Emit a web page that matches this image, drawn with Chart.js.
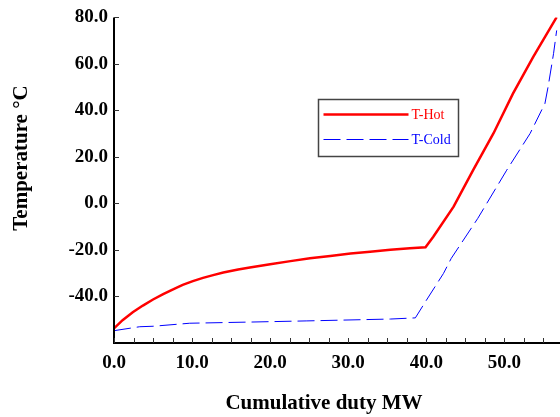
<!DOCTYPE html>
<html>
<head>
<meta charset="utf-8">
<script src="https://cdn.jsdelivr.net/npm/chart.js@4/dist/chart.umd.min.js"></script>
<style>
  html, body { margin: 0; padding: 0; background: #fff; overflow: hidden; }
  #wrap { position: relative; width: 560px; height: 417px; }
</style>
</head>
<body>
<div id="wrap"><canvas id="c" width="560" height="417"></canvas></div>
<script>
// ---- data ----
const hotDuty = [0, 1.1, 2.4, 3.7, 5.0, 6.3, 7.5, 8.8, 10.1, 11.4, 12.7, 14.0, 15.9, 17.4, 20.0, 22.6, 25.1, 27.7, 30.3, 32.8, 35.4, 37.9, 39.9, 40.9, 43.5, 46.0, 48.6, 51.1, 53.7, 56.7];
const hotTemp = [-53.7, -50.2, -46.8, -43.9, -41.3, -39.0, -37.0, -35.0, -33.4, -32.0, -30.8, -29.7, -28.4, -27.5, -26.1, -24.8, -23.6, -22.6, -21.5, -20.8, -19.9, -19.3, -18.8, -14.3, -1.4, 14.3, 30.1, 47.2, 63.0, 80.1];
const coldDuty = [0, 3.3, 5.0, 9.7, 17.4, 24.7, 35.4, 38.6, 39.9, 42.2, 43.2, 46.6, 50.3, 53.3, 55.2, 55.6, 56.3, 56.7];
const coldTemp = [-54.7, -53.0, -52.8, -51.5, -51.0, -50.5, -49.7, -49.2, -42.2, -30.1, -23.6, -6.4, 14.3, 30.1, 43.0, 50.1, 64.4, 74.4];
const seriesNames = ['T-Hot', 'T-Cold'];
const xTitle = 'Cumulative duty MW';
const yTitle = 'Temperature \u00B0C';
const xMin = 0, xMax = 57, xStep = 2.5, xLabelEvery = 10;
const yMin = -60, yMax = 80, yStep = 20;

const toPts = (xs, ys) => xs.map((x, i) => ({ x: x, y: ys[i] }));
const serif = "'Liberation Serif', 'Times New Roman', serif";

const decor = {
  id: 'decor',
  afterDraw(chart) {
    const ctx = chart.ctx;
    const xs = chart.scales.x, ys = chart.scales.y;
    const area = chart.chartArea;
    ctx.save();
    // axis lines
    ctx.strokeStyle = '#000';
    ctx.lineWidth = 2;
    ctx.beginPath();
    ctx.moveTo(area.left, ys.getPixelForValue(yMax));
    ctx.lineTo(area.left, area.bottom);
    ctx.lineTo(area.right + 2, area.bottom);
    ctx.stroke();
    // inward ticks
    ctx.lineWidth = 1;
    ctx.strokeStyle = '#333';
    xs.ticks.forEach(t => {
      const px = Math.round(xs.getPixelForValue(t.value)) + 0.5;
      ctx.beginPath();
      ctx.moveTo(px, area.bottom);
      ctx.lineTo(px, area.bottom - 5);
      ctx.stroke();
    });
    ys.ticks.forEach(t => {
      if (t.value === yMin) return;
      const py = Math.round(ys.getPixelForValue(t.value)) + 0.5;
      ctx.beginPath();
      ctx.moveTo(area.left, py);
      ctx.lineTo(area.left + 5, py);
      ctx.stroke();
    });
    // axis titles
    ctx.fillStyle = '#000';
    ctx.font = 'bold 21px ' + serif;
    ctx.textAlign = 'center';
    ctx.textBaseline = 'middle';
    ctx.fillText(xTitle, 324, 404);
    ctx.save();
    ctx.translate(22, 158);
    ctx.rotate(-Math.PI / 2);
    ctx.fillText(yTitle, 0, 0);
    ctx.restore();
    // legend
    const lx = 318.5, ly = 99.5, lw = 140, lh = 57;
    ctx.strokeStyle = '#444';
    ctx.lineWidth = 1.5;
    ctx.strokeRect(lx, ly, lw, lh);
    chart.data.datasets.forEach((ds, i) => {
      const yy = ly + 15 + i * 25;
      ctx.strokeStyle = ds.borderColor;
      ctx.lineWidth = ds.borderWidth;
      ctx.setLineDash(ds.borderDash || []);
      ctx.beginPath();
      ctx.moveTo(lx + 5, yy);
      ctx.lineTo(lx + 90, yy);
      ctx.stroke();
      ctx.setLineDash([]);
      ctx.fillStyle = ds.borderColor;
      ctx.font = '14px ' + serif;
      ctx.textAlign = 'left';
      ctx.fillText(ds.label, lx + 93, yy + 1);
    });
    ctx.restore();
  }
};

new Chart(document.getElementById('c'), {
  type: 'scatter',
  data: {
    datasets: [
      { label: seriesNames[0], data: toPts(hotDuty, hotTemp), showLine: true, borderColor: '#ff0000', borderWidth: 2.5, pointRadius: 0, tension: 0 },
      { label: seriesNames[1], data: toPts(coldDuty, coldTemp), showLine: true, borderColor: '#0000ff', borderWidth: 1, borderDash: [17, 6], pointRadius: 0, tension: 0 }
    ]
  },
  options: {
    responsive: false,
    animation: false,
    devicePixelRatio: 1,
    layout: { padding: { left: 0, right: 1, top: 17, bottom: 0 } },
    plugins: { legend: { display: false }, tooltip: { enabled: false } },
    scales: {
      x: {
        type: 'linear', min: xMin, max: xMax,
        border: { display: false },
        grid: { display: false, drawTicks: false },
        afterFit(s) { s.height = 74; },
        afterBuildTicks(s) {
          const t = [];
          for (let v = xMin; v <= xMax + 1e-9; v += xStep) t.push({ value: v });
          s.ticks = t;
        },
        ticks: {
          autoSkip: false, maxRotation: 0, padding: 9, color: '#000',
          font: { family: serif, size: 19, weight: 'bold' },
          callback: v => (Math.abs(v % xLabelEvery) < 1e-9 ? v.toFixed(1) : '')
        }
      },
      y: {
        type: 'linear', min: yMin, max: yMax,
        border: { display: false },
        grid: { display: false, drawTicks: false },
        afterFit(s) { s.width = 114; },
        ticks: {
          stepSize: yStep, padding: 6, color: '#000',
          font: { family: serif, size: 19, weight: 'bold' },
          callback: v => (v === yMin ? '' : v.toFixed(1))
        }
      }
    }
  },
  plugins: [decor]
});
</script>
</body>
</html>
